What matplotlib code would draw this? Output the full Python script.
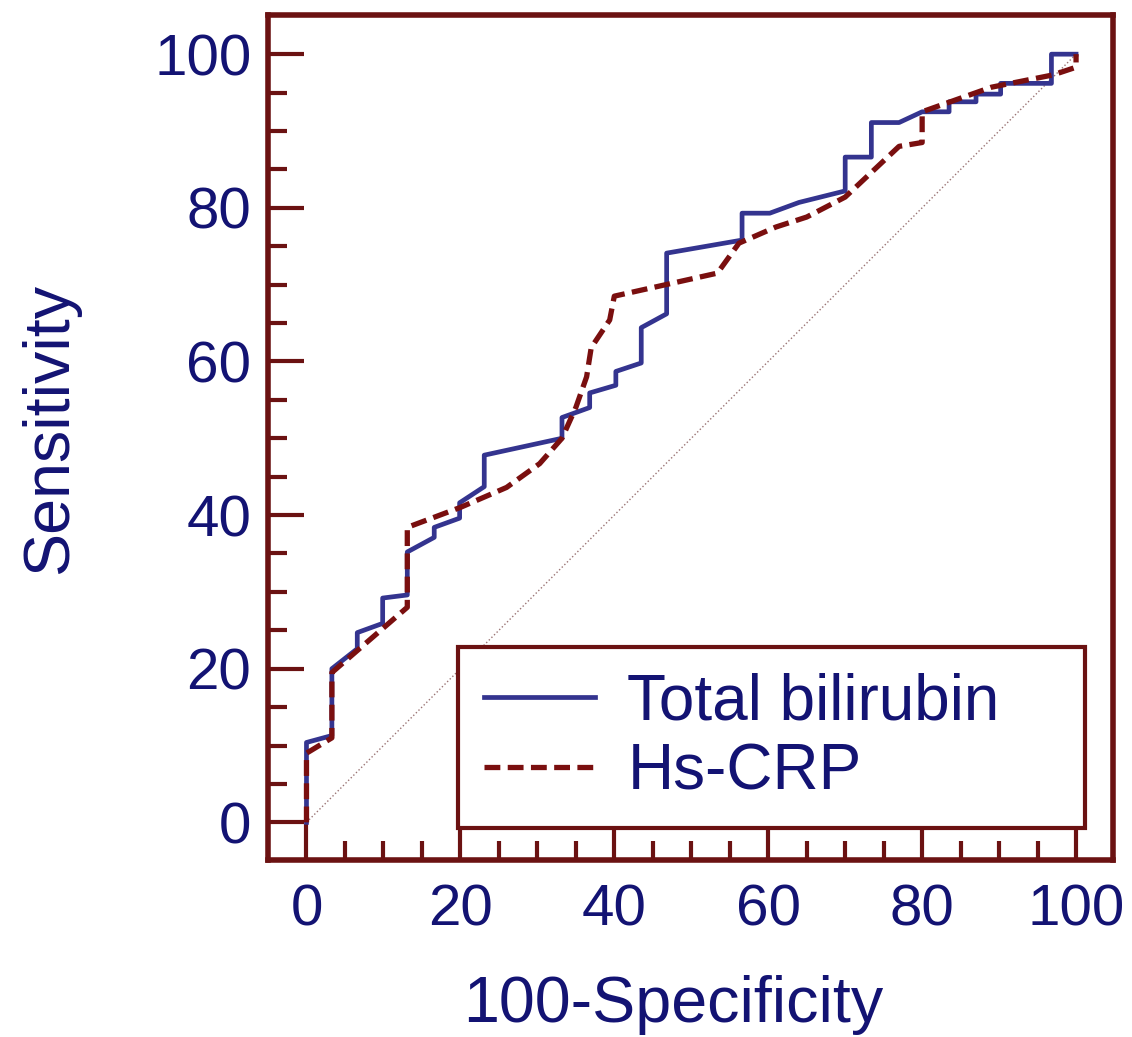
import numpy as np
import matplotlib
matplotlib.use("Agg")
import matplotlib.pyplot as plt
from matplotlib.ticker import MultipleLocator, FixedLocator

# ROC points (100-Specificity, Sensitivity)
bili_x = [0, 0, 3.3, 3.3, 6.6, 6.6, 9.9, 9.9, 13.1, 13.1, 16.6, 16.6, 19.9, 19.9,
          23.1, 23.1, 33.2, 33.2, 36.8, 36.8, 40.2, 40.2, 43.5, 43.5, 46.8, 46.8,
          56.6, 56.6, 60.2, 64, 70, 70, 73.4, 73.4, 77, 80, 83.5, 83.5, 87, 87,
          90.2, 90.2, 96.8, 96.8, 100]
bili_y = [0, 10.4, 11.3, 20, 22.6, 24.7, 25.9, 29.2, 29.6, 35.2, 37.1, 38.4, 39.6, 41.6,
          43.7, 47.8, 50, 52.7, 54, 55.9, 56.9, 58.7, 59.8, 64.4, 66.2, 74.1,
          75.8, 79.3, 79.3, 80.7, 82.2, 86.6, 86.6, 91.1, 91.1, 92.5, 92.5, 93.8, 93.8, 94.8,
          94.8, 96.2, 96.2, 100, 100]

crp_x = [0, 0, 3.3, 3.3, 13.1, 13.1, 20, 26, 30.3, 33.2, 35, 36.4, 37, 39.4, 40,
         53.4, 56.2, 61, 65, 70, 77, 80, 80, 89, 97, 100, 100]
crp_y = [0, 9, 11, 19.5, 28, 38.4, 41, 43.6, 46.7, 50, 54, 58, 61.8, 65.4, 68.5,
         71.5, 75.4, 77.5, 78.8, 81.4, 88, 88.5, 92.5, 95.7, 97.3, 98.3, 100]

labels = ["Total bilirubin", "Hs-CRP"]

frame_col = "#6b1212"
text_col = "#131373"
blue = "#34348f"
red = "#7a0f0f"

plt.rcParams['font.family'] = ['Liberation Sans', 'DejaVu Sans']

fig = plt.figure(figsize=(11.32, 10.37), dpi=100)
ax = fig.add_axes([268/1132, 1 - 860/1037, 845/1132, 845/1037])

ax.plot([0, 100], [0, 100], ls=':', color="#9a7474", lw=1.0)
ax.plot(bili_x, bili_y, color=blue, lw=3.4, label=labels[0])
ax.plot(crp_x, crp_y, color=red, lw=3.8, dashes=(3.0, 1.4), label=labels[1])

ax.set_xlim(-5, 104.8)
ax.set_ylim(-4.9, 105.1)

for s in ax.spines.values():
    s.set_color(frame_col)
    s.set_linewidth(4)

ax.xaxis.set_major_locator(MultipleLocator(20))
ax.yaxis.set_major_locator(MultipleLocator(20))
ax.xaxis.set_minor_locator(FixedLocator([v for v in range(0, 101, 5) if v % 20]))
ax.yaxis.set_minor_locator(FixedLocator([v for v in range(0, 101, 5) if v % 20]))
ax.tick_params(which='both', direction='in', color=frame_col, width=3)
ax.tick_params(which='major', length=26, labelsize=42, labelcolor=text_col)
ax.tick_params(which='minor', length=14)
ax.tick_params(axis='x', which='major', pad=17)
ax.tick_params(axis='y', which='major', pad=12)

ax.set_xlabel("100-Specificity", fontsize=46.5, color=text_col)
ax.set_ylabel("Sensitivity", fontsize=46.5, color=text_col)
ax.xaxis.set_label_coords(0.479, -0.172)
ax.yaxis.set_label_coords(-0.258, 0.511)
ax.xaxis.label.set_va('center')
ax.yaxis.label.set_va('center')

leg = ax.legend(loc='lower left', bbox_to_anchor=(0.225, 0.038, 0.742, 0.218),
                mode='expand', fontsize=46, frameon=True, fancybox=False,
                handlelength=1.75, handletextpad=0.5, labelspacing=0.15,
                borderpad=0.4, borderaxespad=0)
leg.get_frame().set_edgecolor(frame_col)
leg.get_frame().set_linewidth(3)
leg.get_frame().set_alpha(1)
for t in leg.get_texts():
    t.set_color(text_col)

fig.savefig("out.png", dpi=100)
